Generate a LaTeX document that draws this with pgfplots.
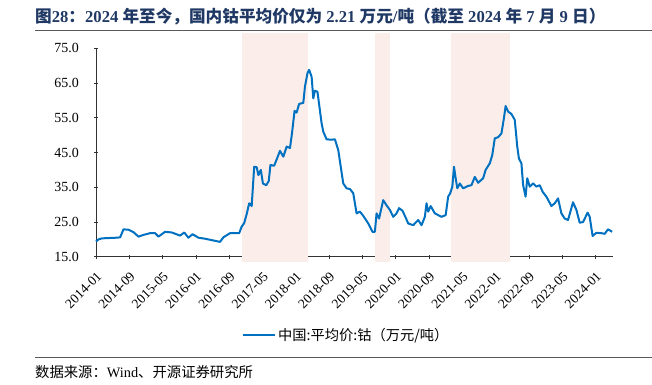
\documentclass[border=0pt]{standalone}
\usepackage{fontspec}
\setmainfont{Liberation Serif}
\newfontfamily\cjk{Noto Sans CJK SC}
\usepackage{pgfplots}
\pgfplotsset{compat=1.18}
\definecolor{navy}{HTML}{1F3864}
\definecolor{lineblue}{HTML}{0070C0}
\definecolor{shadecol}{HTML}{FBEEEA}
\begin{document}
\begin{tikzpicture}
\path[use as bounding box] (0,0) rectangle (652bp,385bp);
\node[anchor=west,text=navy,font=\bfseries\fontsize{16.7}{19}\selectfont,inner sep=0pt] at (35bp,368.3bp)
 {{\cjk 图}28{\cjk ：}2024 {\cjk 年至今，国内钴平均价仅为} 2.21 {\cjk 万元}/{\cjk 吨（截至} 2024 {\cjk 年} 7 {\cjk 月} 9 {\cjk 日）}};
\draw[line width=1.5bp,color=black!65] (35bp,354.3bp) -- (652bp,354.3bp);
\draw[line width=0.8bp,color=black!65] (35bp,27.3bp) -- (652bp,27.3bp);
\node[anchor=west,font=\fontsize{14.4}{16}\selectfont,inner sep=0pt] at (35bp,13.3bp) {{\cjk 数据来源：}Wind{\cjk 、开源证券研究所}};
\begin{axis}[
  scale only axis, width=517bp, height=208.5bp,
  at={(96bp,128.2bp)}, anchor=south west,
  xmin=0, xmax=124.2, ymin=15, ymax=75,
  clip=false,
  axis x line=bottom, axis y line=left,
  axis line style={-, line width=0.8bp, color=black!80},
  xtick={0,8,...,120},
  xticklabels={2014-01,2014-09,2015-05,2016-01,2016-09,2017-05,2018-01,2018-09,2019-05,2020-01,2020-09,2021-05,2022-01,2022-09,2023-05,2024-01},
  ytick={15,25,...,75},
  yticklabel style={/pgf/number format/fixed,/pgf/number format/precision=1,/pgf/number format/fixed zerofill},
  /pgf/number format/assume math mode=true,
  tick style={black!80, line width=0.6bp},
  major tick length=4bp,
  xticklabel shift=12bp,
  yticklabel shift=15bp,
  x tick label style={rotate=45, anchor=north east, font=\fontsize{13.5}{15}\selectfont, inner sep=0pt},
  y tick label style={font=\fontsize{14}{16}\selectfont, inner sep=0pt},
  legend style={at={(0.4836,-0.375)}, anchor=center, draw=none, fill=none, font=\cjk\fontsize{14.3}{16}\selectfont},
  legend image code/.code={\draw[lineblue, line width=2.4bp] (0bp,0bp) -- (32bp,0bp);},
]
\addplot[fill=shadecol, draw=none, forget plot] coordinates {(35.1,13.4) (51,13.4) (51,79.4) (35.1,79.4)} -- cycle;
\addplot[fill=shadecol, draw=none, forget plot] coordinates {(67,13.4) (70.7,13.4) (70.7,79.4) (67,79.4)} -- cycle;
\addplot[fill=shadecol, draw=none, forget plot] coordinates {(85.4,13.4) (99.4,13.4) (99.4,79.4) (85.4,79.4)} -- cycle;
\addplot[lineblue, line width=2bp, line join=round] coordinates {
(0,19.4) (0.6,20.0) (1.4,20.3) (3,20.4) (5,20.5) (5.8,20.6) (6.6,22.9) (7.8,22.8) (9,22.1) (10.2,20.8) (11.4,21.3) (13,21.8) (14.2,21.8) (15,20.8) (16.6,22.2) (18.2,22.0) (20.2,21.1) (21.2,22.0) (22.2,20.5) (23.2,21.5) (24.6,20.5) (26.2,20.2) (27.8,19.8) (29.8,19.3) (30.6,20.6) (32.2,21.8) (34.4,21.8) (35,23.7) (35.6,24.7) (36.2,27.3) (36.8,30.4) (37.4,29.6) (38,40.9) (38.6,40.8) (39,38.5) (39.6,40) (40.1,36.1) (40.9,35.6) (41.5,36.8) (41.9,41.4) (42.8,41.2) (43.4,43.0) (44.2,45.5) (45,43.8) (45.8,46.7) (46.6,46.3) (47.1,50.7) (47.7,57.0) (48.2,56.5) (48.8,59.0) (49.8,59.3) (50.2,64.0) (50.8,67.8) (51.2,68.8) (51.8,66.8) (52.2,60.6) (52.6,62.8) (53.2,62.5) (54.2,53.4) (54.6,51.0) (55.4,48.8) (56.6,48.7) (57.4,48.8) (58.2,45.7) (59.4,36.1) (60.2,34.7) (61,34.5) (61.8,33.3) (62.6,27.5) (63.4,28.0) (64.2,26.8) (65.4,24.6) (66.4,22.2) (67,22.2) (67.4,27.5) (68,26.0) (69,31.3) (69.8,29.8) (70.6,28.5) (71.4,26.5) (72.2,27.5) (72.8,29.0) (73.6,28.3) (74.2,26.8) (75,24.6) (76.2,24.1) (77.4,25.6) (78.2,24.1) (79,26.5) (79.4,30.4) (79.8,28) (80.4,29.6) (81.4,27.5) (83,26.5) (84,27) (84.6,32.3) (85.1,33.3) (85.6,35.2) (86,40.9) (86.4,37.6) (86.8,34.7) (87.4,36.1) (88.2,34.7) (89.4,35.4) (90.2,35.6) (91,38.0) (91.8,36.3) (93,37.6) (93.6,40.0) (94.6,41.9) (95.2,44.3) (95.8,49.1) (96.6,49.4) (97.4,50.5) (98,54.9) (98.4,58.4) (99,56.8) (99.8,56.1) (100.6,54.4) (101.2,46.7) (101.6,43.3) (102.2,41.9) (102.6,35.7) (103.2,32.3) (103.6,37.6) (104.2,35.2) (105,36.1) (105.8,35.2) (106.6,35.6) (107.3,33.7) (108.2,32.3) (109.4,29.6) (110.2,30.4) (111,31.8) (111.8,27.5) (112.6,26) (113.4,25.6) (114.6,30.7) (115.4,28.5) (116.2,24.8) (117,25) (118.1,27.7) (118.6,26.5) (119.3,21.0) (120.2,21.9) (121.4,21.8) (122.2,21.6) (123,22.9) (124,22.2)
};
\addlegendentry{中国:平均价:钴（万元/吨）}
\end{axis}
\end{tikzpicture}
\end{document}
